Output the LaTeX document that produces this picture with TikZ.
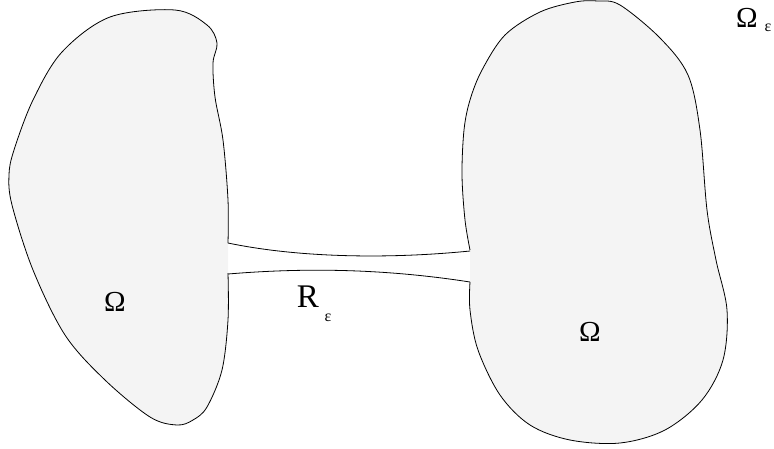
\documentclass[tikz,border=0pt]{standalone}
\usepackage{fontspec}
\setmainfont{Liberation Serif}
\definecolor{regionfill}{RGB}{244,244,244}
\tikzset{
  outline/.style={draw=black, line width=0.8pt, line join=round},
  region/.style={fill=regionfill},
  biglbl/.style={inner sep=0pt, font=\fontsize{29}{31}\selectfont},
  rlbl/.style={inner sep=0pt, font=\fontsize{33}{35}\selectfont},
  sublbl/.style={inner sep=0pt, font=\fontsize{16}{18}\selectfont}
}
\begin{document}
\begin{tikzpicture}[x=1pt,y=-1pt]
\useasboundingbox (0,0) rectangle (774,448);

% left domain: filled region, outline open across the channel mouth
\def\leftblob{(228,273) (228,320) (222,370) (207,407) (193,420) (177,425) (150,417) (105,380) (65,335) (33,270) (12,205) (9,175) (14,150) (33,100) (62,52) (110,17) (175,10) (207,25) (217,43) (213,63) (215,97) (223,140) (228,200) (228,243)}
\fill[region] plot[smooth, tension=0.55] coordinates {\leftblob} -- cycle;
\draw[outline] plot[smooth, tension=0.55] coordinates {\leftblob};

% right domain
\def\rightblob{(470,250) (465,220) (462,175) (464,130) (470,100) (482,70) (505,35) (540,12) (575,2) (598,1) (620,5) (660,38) (688,75) (700,130) (707,210) (716,260) (727,310) (723,360) (702,400) (665,430) (620,443) (570,440) (530,425) (500,395) (478,350) (470,310) (470,282)}
\fill[region] plot[smooth, tension=0.55] coordinates {\rightblob} -- cycle;
\draw[outline] plot[smooth, tension=0.55] coordinates {\rightblob};

% thin channel joining the two domains
\coordinate (lt) at (228,243);
\coordinate (lb) at (228,274);
\coordinate (rt) at (470,251);
\coordinate (rb) at (470,282);
\draw[outline] (lt) .. controls (300,258) and (390,259) .. (rt);
\draw[outline] (lb) .. controls (300,268) and (380,268) .. (rb);

% labels
\node[biglbl] (omL) at (115,302) {Ω};
\node[biglbl] (omR) at (590,332) {Ω};
\node[rlbl] (R) at (308,297) {R};
\node[sublbl] (Reps) at (328,318) {ε};
\node[biglbl] (omE) at (747,18) {Ω};
\node[sublbl] (omEeps) at (768,28) {ε};
\end{tikzpicture}
\end{document}
